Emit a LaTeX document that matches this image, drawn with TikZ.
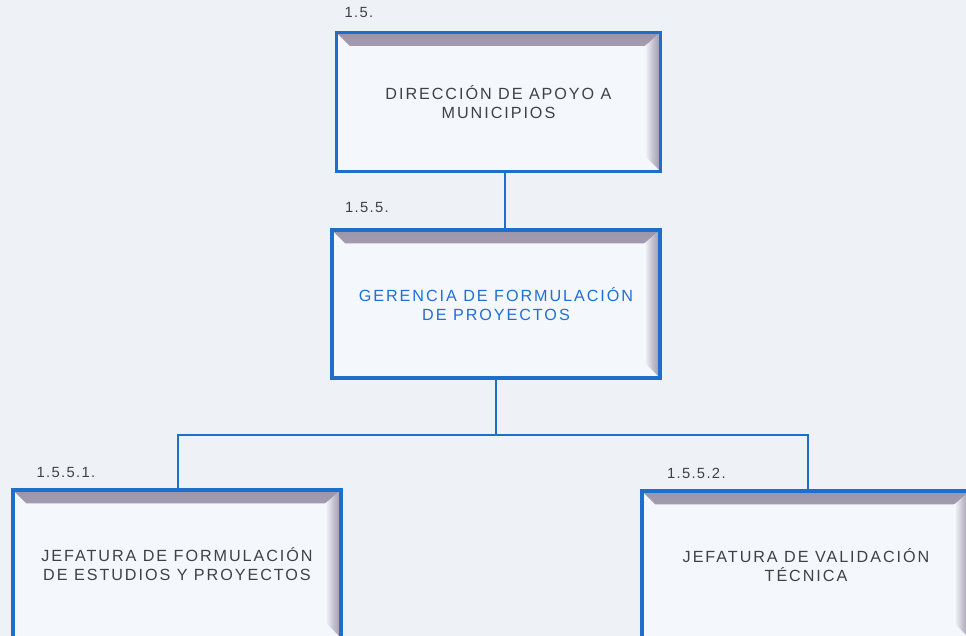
\documentclass[tikz,border=0pt]{standalone}
\usepackage{fontspec}
\newfontfamily\orgfont[LetterSpace=12]{Liberation Sans}
\newfontfamily\numfont[LetterSpace=9]{Liberation Sans}
\usetikzlibrary{positioning}

\definecolor{bgcol}{HTML}{EEF2F7}
\definecolor{boxcol}{HTML}{F4F7FB}
\definecolor{linecol}{HTML}{1D6FCB}
\definecolor{textcol}{HTML}{404048}
\definecolor{titlecol}{HTML}{1F70D6}
\definecolor{bevelcol}{HTML}{9C94AA}

\newcommand{\bevelt}{9.5pt}
\newcommand{\bevelr}{11pt}

\tikzset{
  orgbox/.style={draw=linecol, line width=2.7pt, fill=boxcol, align=center,
    text=textcol, font=\orgfont\fontsize{11.5}{13.5}\selectfont,
    minimum width=8.2cm, minimum height=3.7cm,
    path picture={
      \shade[top color=bevelcol, bottom color=boxcol, middle color=bevelcol!55!boxcol]
        (path picture bounding box.north west) -- (path picture bounding box.north east)
        -- ([xshift=-\bevelr,yshift=-\bevelt]path picture bounding box.north east)
        -- ([xshift=\bevelt,yshift=-\bevelt]path picture bounding box.north west) -- cycle;
      \shade[left color=boxcol, right color=bevelcol, middle color=bevelcol!55!boxcol]
        (path picture bounding box.north east) -- (path picture bounding box.south east)
        -- ([xshift=-\bevelr,yshift=\bevelr]path picture bounding box.south east)
        -- ([xshift=-\bevelr,yshift=-\bevelt]path picture bounding box.north east) -- cycle;
    }},
  numlabel/.style={inner sep=0pt, text=textcol, font=\numfont\fontsize{10.5}{12}\selectfont},
  link/.style={draw=linecol, line width=1.5pt}
}

\begin{document}
\begin{tikzpicture}[x=0.025cm, y=-0.025cm]
\useasboundingbox (0,0) rectangle (966,636);
\clip (0,0) rectangle (966,636);
\fill[bgcol] (0,0) rectangle (966,636);

% boxes
\node[orgbox, minimum width=8.1cm, minimum height=3.47cm] (dir) at (498.5,102) {DIRECCIÓN DE APOYO A\\MUNICIPIOS};
\node[orgbox, text=titlecol] (ger) at (496,304) {GERENCIA DE FORMULACIÓN\\DE PROYECTOS};
\node[orgbox] (jefest) at (177,564) {JEFATURA DE FORMULACIÓN\\DE ESTUDIOS Y PROYECTOS};
\node[orgbox] (jefval) at (806,565) {JEFATURA DE VALIDACIÓN\\TÉCNICA};

% numbers
\node[numlabel, above right=9pt and 7pt of dir.north west] (ndir) {1.5.};
\node[numlabel, above right=10.5pt and 10.5pt of ger.north west] (nger) {1.5.5.};
\node[numlabel, above right=7pt and 18pt of jefest.north west] (njefest) {1.5.5.1.};
\node[numlabel, above right=7pt and 19pt of jefval.north west] (njefval) {1.5.5.2.};

% connectors
\coordinate (bus) at (496,435);
\draw[link] ([xshift=4.5pt]dir.south) -- ([xshift=4.5pt]dir.south |- ger.north);
\draw[link] (ger.south) -- (bus);
\draw[link] (jefest.north -| 178,0) |- (bus) -| (jefval.north -| 808,0);
\end{tikzpicture}
\end{document}
